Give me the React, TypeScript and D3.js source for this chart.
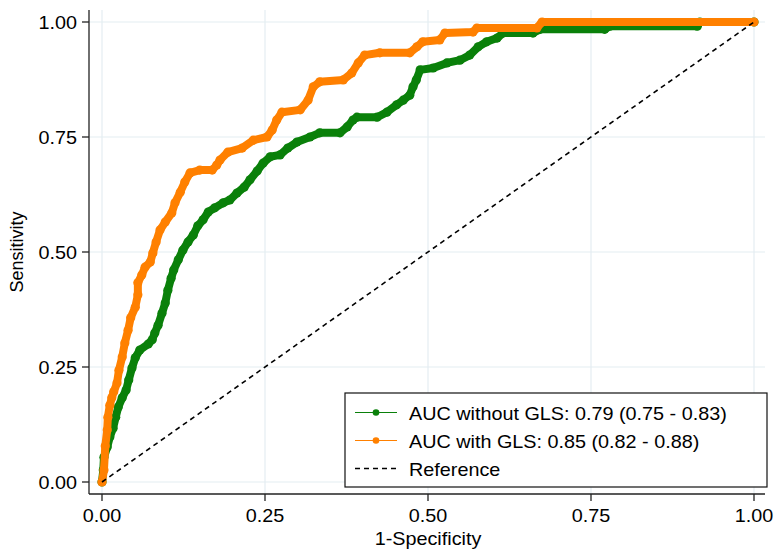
import React from 'react';
import * as d3 from 'd3';

const W = 779;
const H = 557;

// ROC points: 1-specificity and sensitivity, without GLS
const fprWithout = [0, 0.002, 0.003, 0.008, 0.012, 0.017, 0.021, 0.025, 0.031, 0.037, 0.041, 0.046, 0.051, 0.058, 0.071, 0.077, 0.081, 0.086, 0.092, 0.097, 0.101, 0.106, 0.110, 0.117, 0.124, 0.132, 0.140, 0.147, 0.155, 0.163, 0.173, 0.186, 0.196, 0.207, 0.218, 0.227, 0.238, 0.247, 0.258, 0.273, 0.285, 0.299, 0.319, 0.334, 0.365, 0.376, 0.385, 0.391, 0.422, 0.437, 0.452, 0.462, 0.472, 0.477, 0.482, 0.488, 0.508, 0.529, 0.549, 0.564, 0.577, 0.590, 0.606, 0.615, 0.661, 0.672, 0.771, 0.779, 0.913, 0.917, 1];
const tprWithout = [0, 0.026, 0.054, 0.076, 0.098, 0.117, 0.141, 0.163, 0.183, 0.200, 0.222, 0.248, 0.270, 0.287, 0.300, 0.309, 0.324, 0.341, 0.367, 0.389, 0.417, 0.443, 0.461, 0.483, 0.504, 0.522, 0.537, 0.557, 0.570, 0.587, 0.596, 0.607, 0.613, 0.628, 0.641, 0.657, 0.676, 0.693, 0.707, 0.711, 0.726, 0.739, 0.750, 0.759, 0.759, 0.772, 0.787, 0.793, 0.793, 0.804, 0.820, 0.830, 0.841, 0.859, 0.874, 0.896, 0.900, 0.911, 0.917, 0.928, 0.946, 0.957, 0.965, 0.976, 0.976, 0.984, 0.984, 0.991, 0.991, 1, 1];

// ROC points with GLS
const fprWith = [0, 0.003, 0.005, 0.008, 0.009, 0.012, 0.015, 0.018, 0.023, 0.026, 0.031, 0.035, 0.040, 0.044, 0.051, 0.055, 0.055, 0.061, 0.066, 0.074, 0.078, 0.083, 0.089, 0.097, 0.107, 0.112, 0.120, 0.127, 0.135, 0.150, 0.169, 0.176, 0.181, 0.193, 0.215, 0.232, 0.253, 0.261, 0.268, 0.276, 0.304, 0.316, 0.324, 0.334, 0.370, 0.383, 0.393, 0.403, 0.426, 0.472, 0.483, 0.492, 0.518, 0.526, 0.569, 0.575, 0.667, 0.675, 1];
const tprWith = [0, 0.026, 0.078, 0.113, 0.141, 0.167, 0.183, 0.196, 0.215, 0.243, 0.272, 0.302, 0.330, 0.357, 0.380, 0.407, 0.433, 0.450, 0.467, 0.478, 0.498, 0.522, 0.548, 0.565, 0.585, 0.607, 0.630, 0.652, 0.672, 0.678, 0.678, 0.689, 0.700, 0.717, 0.726, 0.743, 0.750, 0.765, 0.787, 0.804, 0.809, 0.830, 0.859, 0.870, 0.874, 0.889, 0.911, 0.928, 0.933, 0.933, 0.946, 0.957, 0.961, 0.976, 0.978, 0.987, 0.987, 1, 1];

const ticks = [0, 0.25, 0.5, 0.75, 1];
const legendLabels = [
  'AUC without GLS: 0.79 (0.75 - 0.83)',
  'AUC with GLS: 0.85 (0.82 - 0.88)',
  'Reference',
];

const GREEN = '#0a800a';
const ORANGE = '#ff8000';
const FONT = '"Liberation Sans", Arial, Helvetica, sans-serif';
const SX = 1.1; // horizontal glyph stretch

function Label({ x, y, anchor = 'start', children }: { x: number; y: number; anchor?: string; children: React.ReactNode }) {
  return (
    <text
      transform={`translate(${x},${y}) scale(${SX},1)`}
      textAnchor={anchor}
      fontFamily={FONT}
      fontSize={18}
      fill="#000"
    >
      {children}
    </text>
  );
}

export default function App() {
  const x = d3.scaleLinear().domain([0, 1]).range([102, 754]);
  const y = d3.scaleLinear().domain([0, 1]).range([482, 22]);

  const left = 89;
  const right = 765;
  const top = 10;
  const bottom = 494;

  const line = d3.line<[number, number]>().x(d => x(d[0])).y(d => y(d[1]));
  const green = fprWithout.map((f, i) => [f, tprWithout[i]] as [number, number]);
  const orange = fprWith.map((f, i) => [f, tprWith[i]] as [number, number]);

  const curve = (pts: [number, number][], color: string) => (
    <g>
      <path d={line(pts) ?? ''} fill="none" stroke={color} strokeWidth={8} strokeLinejoin="round" strokeLinecap="round" />
      {pts.map((p, i) => (
        <circle key={i} cx={x(p[0])} cy={y(p[1])} r={4.6} fill={color} />
      ))}
    </g>
  );

  const lx = 345, ly = 393, lw = 422, lh = 94;
  const rowY = [412.5, 440.5, 468.5];

  return (
    <svg width={W} height={H} style={{ position: 'absolute', left: 0, top: 0, background: '#fff' }}>
      {/* grid */}
      {ticks.map(t => (
        <g key={'g' + t}>
          <line x1={x(t)} x2={x(t)} y1={top} y2={bottom} stroke="#e4edf2" strokeWidth={1.2} />
          <line x1={left} x2={right} y1={y(t)} y2={y(t)} stroke="#e4edf2" strokeWidth={1.2} />
        </g>
      ))}

      {curve(green, GREEN)}
      {curve(orange, ORANGE)}

      {/* reference diagonal */}
      <line x1={x(0)} y1={y(0)} x2={x(1)} y2={y(1)} stroke="#000" strokeWidth={1.6} strokeDasharray="5,4" />

      {/* axes */}
      <line x1={left} x2={left} y1={top} y2={bottom} stroke="#222" strokeWidth={1.3} />
      <line x1={left} x2={right} y1={bottom} y2={bottom} stroke="#222" strokeWidth={1.3} />
      {ticks.map(t => (
        <g key={'t' + t}>
          <line x1={left - 7} x2={left} y1={y(t)} y2={y(t)} stroke="#222" strokeWidth={1.3} />
          <Label x={left - 12} y={y(t) + 6.5} anchor="end">{t.toFixed(2)}</Label>
          <line x1={x(t)} x2={x(t)} y1={bottom} y2={bottom + 7} stroke="#222" strokeWidth={1.3} />
          <Label x={x(t)} y={522} anchor="middle">{t.toFixed(2)}</Label>
        </g>
      ))}

      <Label x={428} y={545} anchor="middle">1-Specificity</Label>
      <text
        transform={`translate(23,${(y(0) + y(1)) / 2}) rotate(-90)`}
        textAnchor="middle"
        fontFamily={FONT}
        fontSize={18}
      >
        Sensitivity
      </text>

      {/* legend */}
      <rect x={lx} y={ly} width={lw} height={lh} fill="#fff" stroke="#111" strokeWidth={1.2} />
      <line x1={355} x2={397} y1={rowY[0]} y2={rowY[0]} stroke={GREEN} strokeWidth={1.2} />
      <circle cx={376} cy={rowY[0]} r={3.3} fill={GREEN} />
      <line x1={355} x2={397} y1={rowY[1]} y2={rowY[1]} stroke={ORANGE} strokeWidth={1.2} />
      <circle cx={376} cy={rowY[1]} r={3.3} fill={ORANGE} />
      <line x1={355} x2={397} y1={rowY[2]} y2={rowY[2]} stroke="#000" strokeWidth={1.4} strokeDasharray="5,4" />
      {legendLabels.map((l, i) => (
        <Label key={l} x={409} y={rowY[i] + 7}>{l}</Label>
      ))}
    </svg>
  );
}
